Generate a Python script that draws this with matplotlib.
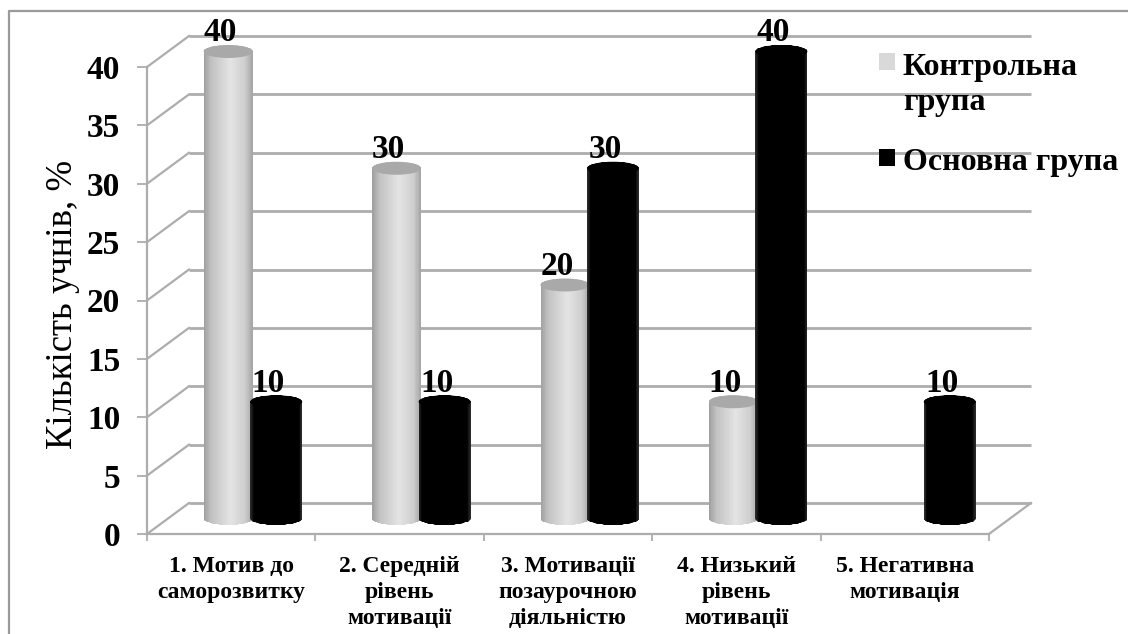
import numpy as np
import matplotlib
matplotlib.use("Agg")
import matplotlib.pyplot as plt
from matplotlib.colors import LinearSegmentedColormap
from matplotlib.patches import PathPatch, Ellipse, Rectangle
from matplotlib.path import Path
from matplotlib.lines import Line2D

plt.rcParams["font.family"] = ["Liberation Serif", "DejaVu Serif"]

# Chart data
categories = [
    "1. Мотив до\nсаморозвитку",
    "2. Середній\nрівень\nмотивації",
    "3. Мотивації\nпозаурочною\nдіяльністю",
    "4. Низький\nрівень\nмотивації",
    "5. Негативна\nмотивація",
]
control_group = [40, 30, 20, 10, None]
main_group = [10, 10, 30, 40, 10]
y_ticks = [0, 5, 10, 15, 20, 25, 30, 35, 40]
y_title = "Кількість учнів, %"
legend_labels = ["Контрольна\nгрупа", "Основна група"]

W, H = 1128, 634
GRID = "#adadad"
FRAME = "#9a9a9a"

fig = plt.figure(figsize=(W / 100, H / 100), dpi=100, facecolor="white")

# The axes rectangle is the front plane of the pseudo-3D box
left, right, bottom, top = 147, 989, 534, 67
ax = fig.add_axes([left / W, 1 - bottom / H, (right - left) / W, (bottom - top) / H])
ax.set_xlim(0, len(categories))
ax.set_ylim(0, 40)
ax.patch.set_alpha(0)

px_x = len(categories) / (right - left)   # data units per pixel, horizontally
px_y = 40 / (bottom - top)                # data units per pixel, vertically
depth_x, depth_y = 42 * px_x, 31 * px_y

# Outer chart border (top and left edges)
fig.add_artist(Line2D([8.5 / W, 8.5 / W, 1], [0, 1 - 10.5 / H, 1 - 10.5 / H],
                      color=FRAME, lw=1.6, transform=fig.transFigure))

# Back wall gridlines, side wall diagonals and floor edge
for v in y_ticks:
    ax.plot([depth_x, len(categories) + depth_x], [v + depth_y] * 2, color=GRID,
            lw=2.0, clip_on=False, zorder=1, solid_capstyle="butt")
    ax.plot([0, depth_x], [v, v + depth_y], color=GRID, lw=1.6, clip_on=False, zorder=1)
ax.plot([len(categories), len(categories) + depth_x], [0, depth_y], color=GRID,
        lw=1.6, clip_on=False, zorder=1)

light_cmap = LinearSegmentedColormap.from_list(
    "light", [(0, "#a0a0a0"), (0.15, "#c2c2c2"), (0.55, "#e4e4e4"), (0.85, "#cecece"), (1, "#a6a6a6")])
dark_cmap = LinearSegmentedColormap.from_list(
    "dark", [(0, "#2a2a2a"), (0.06, "#000000"), (0.94, "#000000"), (1, "#2a2a2a")])


def cylinder(xc, value, half_px, cmap, cap_color, z):
    """Draw a shaded cylinder standing on the floor mid-way through the box depth."""
    hw = half_px * px_x
    ry = 6.5 * px_y
    base = depth_y / 2
    top_y = value + base
    t = np.linspace(np.pi, 2 * np.pi, 40)
    lower = np.column_stack([xc + hw * np.cos(t), base + ry * np.sin(t)])
    upper = np.column_stack([xc + hw * np.cos(t[::-1]), top_y - ry * np.sin(t[::-1])])
    outline = np.vstack([lower, upper, lower[:1]])
    clip = PathPatch(Path(outline), fc="none", ec="none", transform=ax.transData, zorder=z)
    ax.add_patch(clip)
    clip.set_clip_on(False)
    xs = np.linspace(xc - hw, xc + hw, 61)
    ys = np.array([base - ry, top_y + ry])
    shade = np.linspace(0, 1, 60)[None, :]
    mesh = ax.pcolormesh(xs, ys, shade, cmap=cmap, vmin=0, vmax=1, zorder=z, shading="flat")
    mesh.set_clip_path(clip)
    mesh.set_clip_box(None)
    cap = Ellipse((xc, top_y), 2 * hw, 2 * ry, fc=cap_color, ec="none", zorder=z + 0.1, clip_on=False)
    ax.add_patch(cap)


centers = np.arange(len(categories)) + 0.5 + depth_x / 2
shift = 24 * px_x
for xc, val in zip(centers - shift, control_group):
    if val is not None:
        cylinder(xc, val, 24.5, light_cmap, "#a9a9a9", 3)
        ax.text(xc - 8 * px_x, val + depth_y / 2 + 22 * px_y, f"{val}", ha="center", va="center_baseline",
                fontsize=24, fontweight="bold", color="black", zorder=6, clip_on=False)
for xc, val in zip(centers + shift, main_group):
    cylinder(xc, val, 26, dark_cmap, "#000000", 4)
    ax.text(xc - 8 * px_x, val + depth_y / 2 + 22 * px_y, f"{val}", ha="center", va="center_baseline",
            fontsize=24, fontweight="bold", color="black", zorder=6, clip_on=False)

# Axes, ticks and tick labels
for name in ("top", "right"):
    ax.spines[name].set_visible(False)
for name in ("left", "bottom"):
    ax.spines[name].set_color(GRID)
    ax.spines[name].set_linewidth(1.6)
    ax.spines[name].set_zorder(2)

ax.set_yticks(y_ticks)
ax.set_yticklabels([str(v) for v in y_ticks], fontsize=24, fontweight="bold")
ax.tick_params(axis="y", length=7.2, width=1.3, color=GRID, pad=12)

ax.set_xticks(np.arange(len(categories) + 1))
ax.set_xticklabels([])
ax.tick_params(axis="x", which="major", length=5, width=1.3, color=GRID)
ax.set_xticks(np.arange(len(categories)) + 0.5, minor=True)
ax.set_xticklabels(categories, minor=True, fontsize=17, fontweight="bold", linespacing=1.33, va="top")
ax.tick_params(axis="x", which="minor", length=0, pad=15.5)

ax.set_ylabel(y_title, fontsize=26.5, fontweight="normal")
ax.yaxis.set_label_coords((80 - left) / (right - left), (bottom - 304) / (bottom - top))

# Legend swatches and labels
swatches = [("#d9d9d9", 53), ("#000000", 149)]
label_baselines = [(903, 110), (903, 170)]
for (color, y), (tx, ty), label in zip(swatches, label_baselines, legend_labels):
    fig.add_artist(Rectangle((879 / W, 1 - (y + 17) / H), 16 / W, 17 / H, fc=color, ec="none",
                             transform=fig.transFigure, zorder=7))
    fig.text(tx / W, 1 - ty / H, label, ha="left", va="baseline", fontsize=23, fontweight="bold",
             linespacing=1.25, zorder=8)

fig.savefig("out.png", dpi=100, facecolor="white")
